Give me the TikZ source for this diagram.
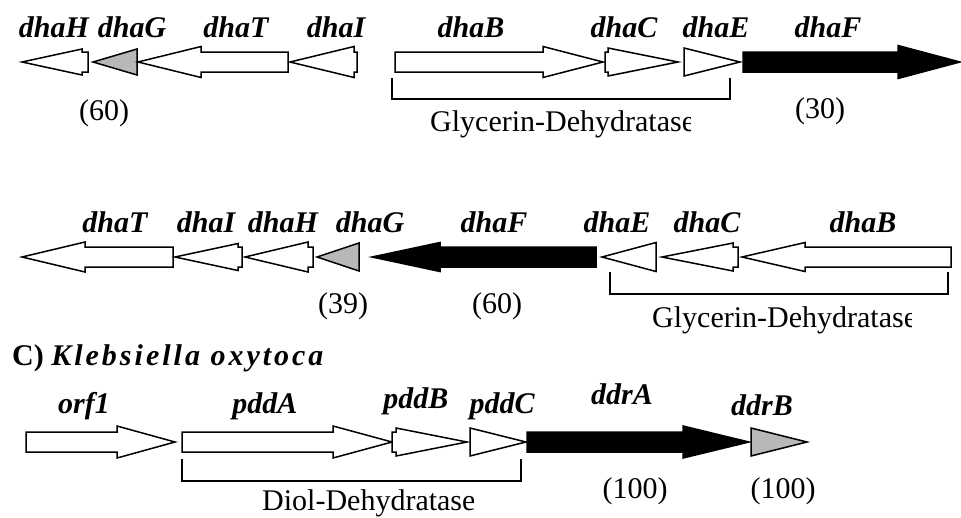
\documentclass[tikz,border=0pt]{standalone}
\usepackage{fontspec}
\setmainfont{Liberation Serif}
\newfontfamily\spacedfont[LetterSpace=10]{Liberation Serif}
\usetikzlibrary{positioning}

% gene arrow: style, tail x, head back x, tip x, y, half height of head
\newcommand{\genearrow}[6]{%
  \draw[#1] (#2,#5-10) -- (#3,#5-10) -- (#3,#5-#6) -- (#4,#5)
    -- (#3,#5+#6) -- (#3,#5+10) -- (#2,#5+10) -- cycle;}

\begin{document}
\begin{tikzpicture}[x=1pt, y=-1pt,
    gene/.style={draw=black, line width=1.5pt, fill=white},
    gray gene/.style={gene, fill=black!28},
    black gene/.style={gene, fill=black},
    genename/.style={anchor=base, inner sep=0pt,
      font=\fontsize{30}{30}\selectfont\bfseries\itshape},
    note/.style={anchor=base, inner sep=0pt,
      font=\fontsize{30}{30}\selectfont},
    enzyme/.style={note, anchor=base west},
    bracket/.style={draw=black, line width=1.4pt}]
  \useasboundingbox (0,0) rectangle (961,517);

  % erste Reihe
  \genearrow{gene}{88}{82}{22}{62}{13}
  \genearrow{gray gene}{137}{137}{93}{62}{13}
  \genearrow{gene}{288}{201}{138}{62}{15.5}
  \genearrow{gene}{357}{354}{290}{62}{15.5}
  \genearrow{gene}{395}{543}{603}{62}{15.5}
  \genearrow{gene}{605}{608}{678}{62}{14}
  \genearrow{gene}{684}{684}{740}{62}{14}
  \genearrow{black gene}{743}{898}{960}{62}{16.5}
  \draw[bracket] (392,78) -- (392,99) -- (730,99) -- (730,78);

  \node[genename] (dhaH 1) at (54,37)  {dhaH};
  \node[genename] (dhaG 1) at (132,37) {dhaG};
  \node[genename] (dhaT 1) at (236,37) {dhaT};
  \node[genename] (dhaI 1) at (336,37) {dhaI};
  \node[genename] (dhaB 1) at (471,37) {dhaB};
  \node[genename] (dhaC 1) at (624,37) {dhaC};
  \node[genename] (dhaE 1) at (716,37) {dhaE};
  \node[genename] (dhaF 1) at (828,37) {dhaF};
  \node[note] (num dhaG 1) at (104,120) {(60)};
  \node[note] (num dhaF 1) at (820,118) {(30)};
  \begin{scope}
    \clip (420,100) rectangle (690,145);
    \node[enzyme] (enzyme 1) at (430,131) {Glycerin-Dehydratase};
  \end{scope}

  % zweite Reihe
  \genearrow{gene}{173}{85}{22}{257}{15}
  \genearrow{gene}{242}{238}{175}{257}{13.5}
  \genearrow{gene}{313}{308}{245}{257}{15}
  \genearrow{gray gene}{359}{359}{317}{257}{14}
  \genearrow{black gene}{596}{440}{372}{257}{14.5}
  \genearrow{gene}{656}{656}{602}{257}{14.5}
  \genearrow{gene}{738}{733}{662}{257}{14}
  \genearrow{gene}{951}{805}{742}{257}{14.5}
  \draw[bracket] (610,272) -- (610,294) -- (948,294) -- (948,272);

  \node[genename] (dhaT 2) at (115,232) {dhaT};
  \node[genename] (dhaI 2) at (206,232) {dhaI};
  \node[genename] (dhaH 2) at (283,232) {dhaH};
  \node[genename] (dhaG 2) at (370,232) {dhaG};
  \node[genename] (dhaF 2) at (494,232) {dhaF};
  \node[genename] (dhaE 2) at (617,232) {dhaE};
  \node[genename] (dhaC 2) at (707,232) {dhaC};
  \node[genename] (dhaB 2) at (863,232) {dhaB};
  \node[note] (num dhaG 2) at (343,313) {(39)};
  \node[note] (num dhaF 2) at (497,313) {(60)};
  \begin{scope}
    \clip (640,295) rectangle (911,340);
    \node[enzyme] (enzyme 2) at (652,327) {Glycerin-Dehydratase};
  \end{scope}

  % dritte Reihe
  \node[note, anchor=base west] (title 3) at (12,365)
    {\bfseries C) {\spacedfont\bfseries\itshape Klebsiella oxytoca}};
  \genearrow{gene}{26}{117}{175}{442}{16}
  \genearrow{gene}{182}{333}{392}{442}{16}
  \genearrow{gene}{392}{396}{467}{442}{14}
  \genearrow{gene}{470}{470}{526}{442}{14}
  \genearrow{black gene}{527}{683}{749}{442}{16}
  \genearrow{gray gene}{751}{751}{807}{442}{14}
  \draw[bracket] (182,459) -- (182,481) -- (521,481) -- (521,459);

  \node[genename] (orf1 3) at (84,413)  {orf1};
  \node[genename] (pddA 3) at (265,413) {pddA};
  \node[genename] (pddB 3) at (416,408) {pddB};
  \node[genename] (pddC 3) at (502,413) {pddC};
  \node[genename] (ddrA 3) at (622,404) {ddrA};
  \node[genename] (ddrB 3) at (762,415) {ddrB};
  \node[note] (num ddrA 3) at (635,498) {(100)};
  \node[note] (num ddrB 3) at (783,498) {(100)};
  \begin{scope}
    \clip (250,484) rectangle (473,517);
    \node[enzyme] (enzyme 3) at (262,510) {Diol-Dehydratase};
  \end{scope}
\end{tikzpicture}
\end{document}
